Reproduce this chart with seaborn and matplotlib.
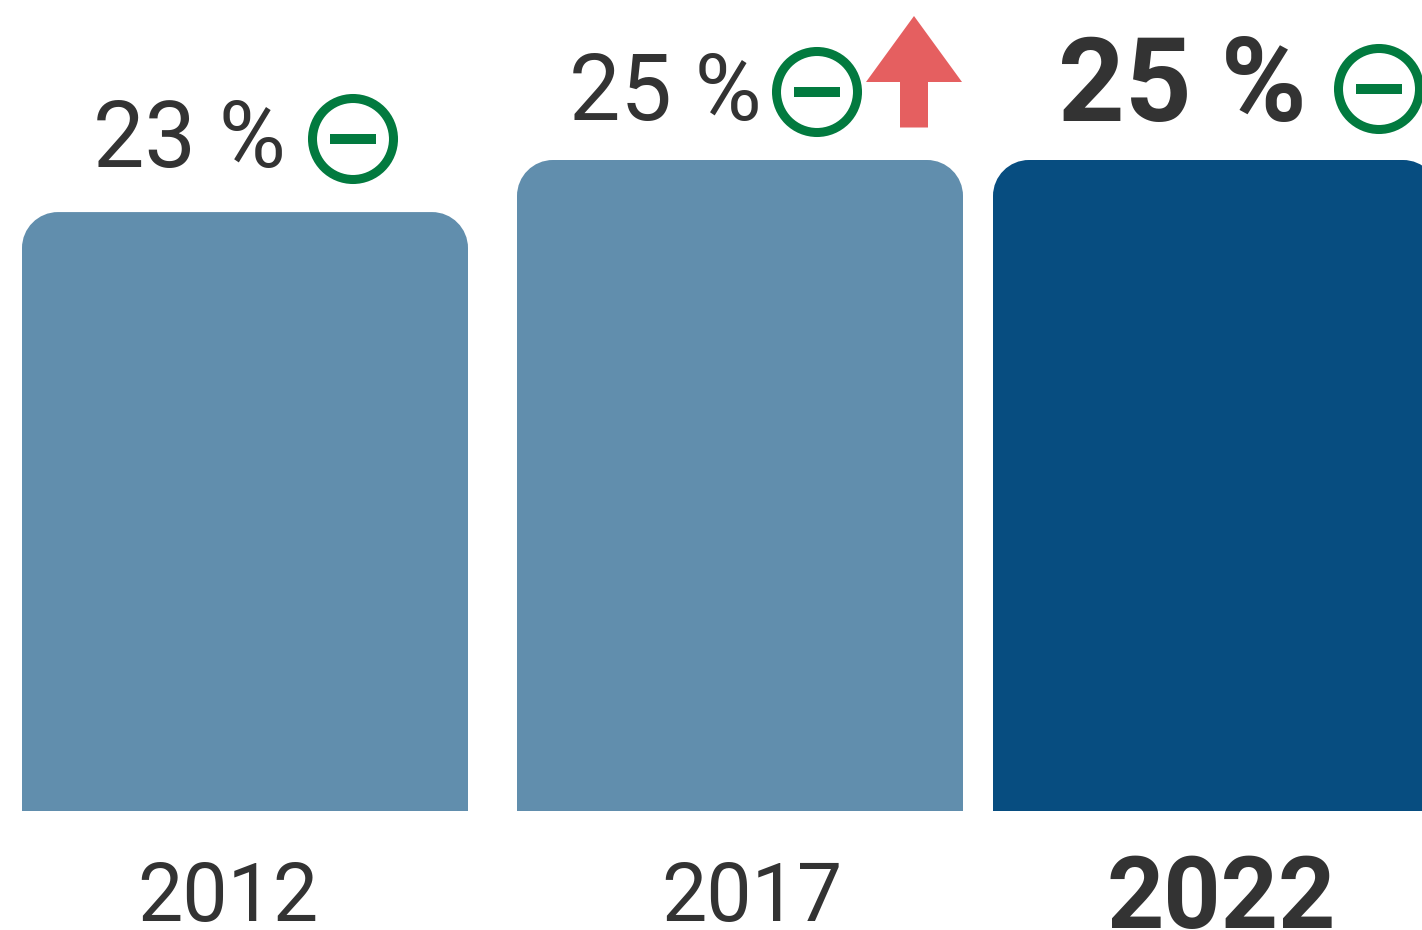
import matplotlib
matplotlib.use("Agg")
import matplotlib.pyplot as plt
from matplotlib.patches import Circle, PathPatch, Polygon, Rectangle
from matplotlib.path import Path
import pandas as pd
import seaborn as sns

sns.set_theme(style="white")
plt.rcParams["font.family"] = ["Roboto", "DejaVu Sans"]

years = ["2012", "2017", "2022"]
shares = [23, 25, 25]
share_labels = ["23 %", "25 %", "25 %"]
bar_colors = ["#618EAD", "#618EAD", "#074D80"]

TEXT = "#333333"
GREEN = "#027A3F"
RED = "#E55F60"

W, H = 1422, 930
BASE_Y = 811
PX_PER_UNIT = 651 / 25
STEP = 476  # px between categories before the manual nudges
RADIUS = 36

df = pd.DataFrame({"year": years, "share": shares})

fig = plt.figure(figsize=(W / 100, H / 100), dpi=100)
ax = fig.add_axes([0, 0, 1, 1])
sns.barplot(data=df, x="year", y="share", hue="year", palette=bar_colors,
            order=years, hue_order=years, width=446 / STEP, saturation=1,
            legend=False, ax=ax)
ax.set_xlim(-245 / STEP, (W - 245) / STEP)
ax.set_ylim(-(H - BASE_Y) / PX_PER_UNIT, BASE_Y / PX_PER_UNIT)
ax.axis("off")

# overlay in pixel coords (y down) for labels, icons and the corner clips
px = fig.add_axes([0, 0, 1, 1], zorder=3)
px.set_xlim(0, W)
px.set_ylim(H, 0)
px.axis("off")
px.patch.set_alpha(0)


def top_rounded(x0, top, w, bottom, r):
    k = 0.5523 * r
    x1 = x0 + w
    verts = [(x0, bottom), (x0, top + r),
             (x0, top + r - k), (x0 + r - k, top), (x0 + r, top),
             (x1 - r, top),
             (x1 - r + k, top), (x1, top + r - k), (x1, top + r),
             (x1, bottom), (x0, bottom)]
    codes = [Path.MOVETO, Path.LINETO,
             Path.CURVE4, Path.CURVE4, Path.CURVE4,
             Path.LINETO,
             Path.CURVE4, Path.CURVE4, Path.CURVE4,
             Path.LINETO, Path.CLOSEPOLY]
    return Path(verts, codes)


# the gap between the last two bars is tighter than the first two
nudges = [0, 19, 19]
for bar, nudge in zip(ax.patches, nudges):
    bar.set_x(bar.get_x() + nudge / STEP)
    bar.set_linewidth(0)
    x0 = 245 + bar.get_x() * STEP
    top = BASE_Y - bar.get_height() * PX_PER_UNIT
    clip = PathPatch(top_rounded(x0, top, 446, BASE_Y + 10, RADIUS),
                     transform=px.transData)
    bar.set_clip_path(clip)


def minus_icon(cx, cy):
    px.add_patch(Circle((cx, cy), 40.5, fill=False, ec=GREEN, lw=6.5, clip_on=False))
    px.add_patch(Rectangle((cx - 23, cy - 4.5), 46, 9.5, fc=GREEN, lw=0))


# regular labels
px.text(93, 167, share_labels[0], fontsize=66, color=TEXT, ha="left", va="baseline")
px.text(569, 120, share_labels[1], fontsize=66, color=TEXT, ha="left", va="baseline")
px.text(228, 921, years[0], fontsize=58, color=TEXT, ha="center", va="baseline")
px.text(752, 921, years[1], fontsize=58, color=TEXT, ha="center", va="baseline")

# highlighted year
px.text(1058, 121, share_labels[2], fontsize=84, color=TEXT, fontweight="bold",
        ha="left", va="baseline")
px.text(1221, 928, years[2], fontsize=72, color=TEXT, fontweight="bold",
        ha="center", va="baseline")

minus_icon(353, 139)
minus_icon(817, 92)
minus_icon(1379, 89)

# up arrow next to 2017
px.add_patch(Polygon([(914, 16), (962, 82), (928, 82), (928, 127.5),
                      (900, 127.5), (900, 82), (866, 82)],
                     closed=True, fc=RED, lw=0))

fig.savefig("out.png", dpi=100)
